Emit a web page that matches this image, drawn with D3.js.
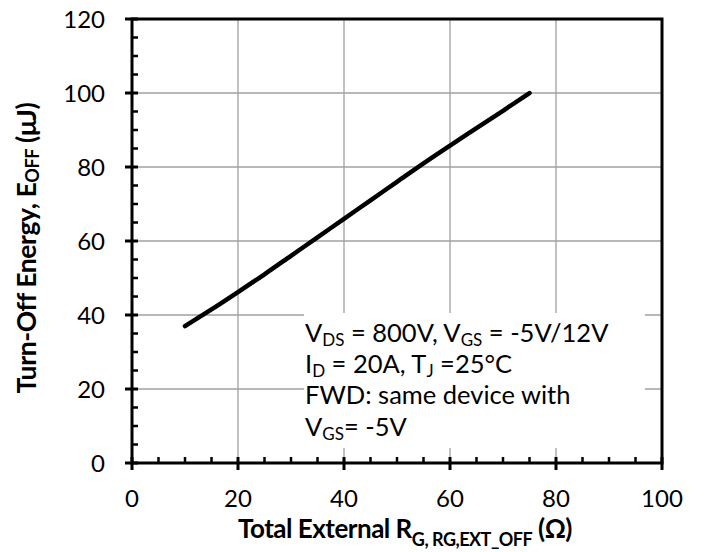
<!DOCTYPE html>
<html><head><meta charset="utf-8">
<script src="https://cdn.jsdelivr.net/npm/d3@7"></script>
<style>
body{margin:0;background:#fff;}
text{font-family:Lato,"Open Sans",sans-serif;}
</style></head>
<body><svg id="c" width="704" height="552"></svg>
<script>
const rgValues = [10,15,20,25,30,35,40,45,50,55,60,65,70,75];
const eoffValues = [37,41.5,46.2,51,56,61,66,71,76,81,85.8,90.5,95.2,100];
const xTicks = [0,20,40,60,80,100];
const yTicks = [0,20,40,60,80,100,120];

const svg = d3.select("#c");
const L=132, R=662, T=19, B=463;
const x = d3.scaleLinear().domain([0,100]).range([L,R]);
const y = d3.scaleLinear().domain([0,120]).range([B,T]);

// grid
const g = svg.append("g");
g.selectAll(".vg").data(xTicks.slice(1,-1)).join("line")
  .attr("x1",d=>x(d)).attr("x2",d=>x(d)).attr("y1",T).attr("y2",B)
  .attr("stroke","#a0a0a0").attr("stroke-width",1.3);
g.selectAll(".hg").data(yTicks.slice(1,-1)).join("line")
  .attr("y1",d=>y(d)).attr("y2",d=>y(d)).attr("x1",L).attr("x2",R)
  .attr("stroke","#a0a0a0").attr("stroke-width",1.3);

// annotation white box
svg.append("rect").attr("x",304).attr("y",313).attr("width",341).attr("height",135).attr("fill","#fff");

// frame
svg.append("rect").attr("x",L).attr("y",T).attr("width",R-L).attr("height",B-T)
  .attr("fill","none").attr("stroke","#000").attr("stroke-width",3);

// minor ticks
const xMinor = d3.range(5,100,5).filter(v=>v%20!==0);
svg.selectAll(".xm").data(xMinor).join("line")
  .attr("x1",d=>x(d)).attr("x2",d=>x(d)).attr("y1",B).attr("y2",B-6)
  .attr("stroke","#000").attr("stroke-width",2.5);
const yMinor = d3.range(5,120,5).filter(v=>v%20!==0);
svg.selectAll(".ym").data(yMinor).join("line")
  .attr("y1",d=>y(d)).attr("y2",d=>y(d)).attr("x1",L).attr("x2",L+6)
  .attr("stroke","#000").attr("stroke-width",2.5);

// major ticks
svg.selectAll(".xM").data(xTicks).join("line")
  .attr("x1",d=>x(d)).attr("x2",d=>x(d)).attr("y1",B-6).attr("y2",B+7)
  .attr("stroke","#000").attr("stroke-width",3);
svg.selectAll(".yM").data(yTicks).join("line")
  .attr("y1",d=>y(d)).attr("y2",d=>y(d)).attr("x1",L-7).attr("x2",L+6)
  .attr("stroke","#000").attr("stroke-width",3);

// tick labels
svg.selectAll(".xl").data(xTicks).join("text")
  .attr("x",d=>x(d)).attr("y",B+44).attr("text-anchor","middle")
  .attr("font-size",24).text(d=>d);
svg.selectAll(".yl").data(yTicks).join("text")
  .attr("x",L-27).attr("y",d=>y(d)+8.5).attr("text-anchor","end")
  .attr("font-size",24).text(d=>d);

// curve
svg.append("path").datum(rgValues.map((r,i)=>[r,eoffValues[i]]))
  .attr("d",d3.line().x(d=>x(d[0])).y(d=>y(d[1])).curve(d3.curveMonotoneX))
  .attr("fill","none").attr("stroke","#000").attr("stroke-width",4.5).attr("stroke-linecap","round");

// annotation text
const ann = svg.append("g").attr("font-size",25.5);
function line(yy, parts){
  const t = ann.append("text").attr("x",305).attr("y",yy);
  parts.forEach(p=>{
    const s = t.append("tspan").text(p[0]);
    if(p[1]==="sub"){ s.attr("font-size",17).attr("dy",4); }
    else if(p[2]) s.attr("dy",-4);
  });
}
line(342,[["V"],["DS","sub"],[" = 800V, V",null,true],["GS","sub"],[" = -5V/12V",null,true]]);
line(373,[["I"],["D","sub"],[" = 20A, T",null,true],["J","sub"],[" =25°C",null,true]]);
line(404,[["FWD: same device with"]]);
line(436,[["V"],["GS","sub"],["= -5V",null,true]]);

// axis titles
const xt = svg.append("text").attr("x",405).attr("y",538).attr("text-anchor","middle")
  .attr("font-size",26).attr("font-weight","bold").attr("letter-spacing",-0.5);
xt.append("tspan").text("Total External R");
xt.append("tspan").text("G, RG,EXT_OFF").attr("font-size",18).attr("dy",8);
xt.append("tspan").text(" (Ω)").attr("dy",-8);

const yt = svg.append("text").attr("transform","translate(36,248) rotate(-90)").attr("text-anchor","middle")
  .attr("font-size",26.5).attr("font-weight","bold").attr("letter-spacing",-0.4);
yt.append("tspan").text("Turn-Off Energy, E");
yt.append("tspan").text("OFF").attr("font-size",18).attr("dy",3);
yt.append("tspan").text(" (μJ)").attr("dy",-3);
</script></body></html>
